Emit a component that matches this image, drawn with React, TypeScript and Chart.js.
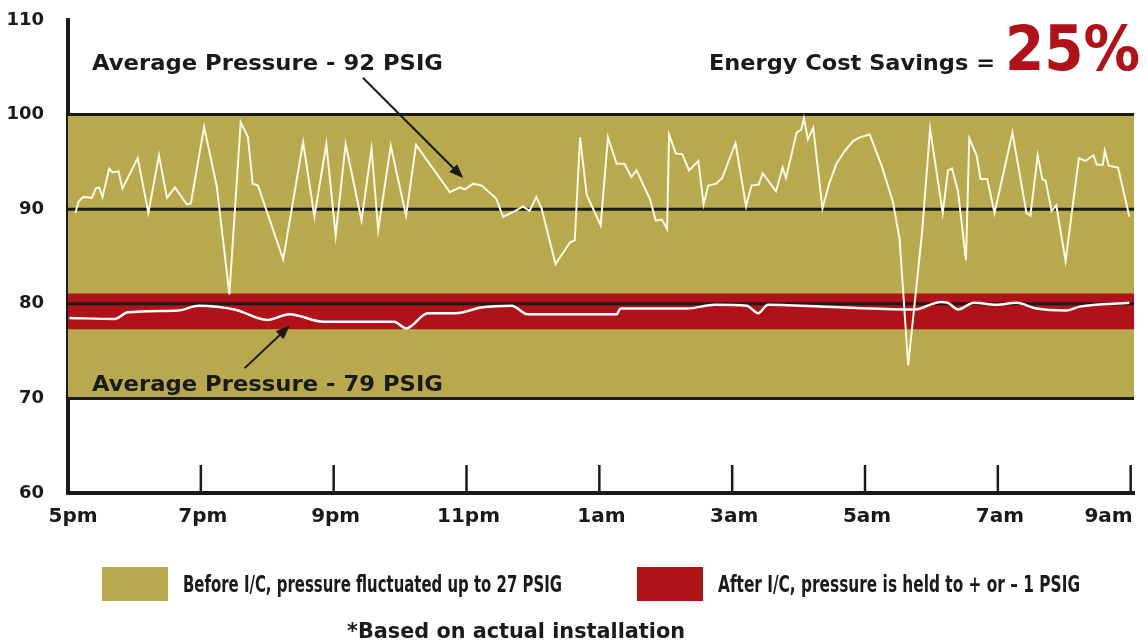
import React, { useEffect, useRef } from "react";
import { Chart, registerables } from "chart.js";

Chart.register(...registerables);

// ---------- data ----------
// x values are hours after 5pm
const TIME_LABELS = ["5pm", "7pm", "9pm", "11pm", "1am", "3am", "5am", "7am", "9am"];
const TICK_STEP_HOURS = 2;
const X_MAX = 16.05;
const Y_MIN = 60;
const Y_MAX = 110;
const Y_STEP = 10;

const BEFORE_HOURS = [0.11, 0.16, 0.23, 0.36, 0.42, 0.47, 0.52, 0.62, 0.67, 0.76, 0.82, 1.05, 1.21, 1.37, 1.49, 1.61, 1.79, 1.85, 2.05, 2.24, 2.43, 2.6, 2.71, 2.78, 2.86, 3.24, 3.54, 3.71, 3.89, 4.03, 4.18, 4.42, 4.57, 4.67, 4.86, 5.09, 5.24, 5.75, 5.9, 5.98, 6.1, 6.23, 6.45, 6.55, 6.73, 6.85, 6.95, 7.05, 7.13, 7.34, 7.56, 7.63, 7.71, 7.81, 8.02, 8.13, 8.26, 8.38, 8.48, 8.56, 8.76, 8.85, 8.94, 9.02, 9.05, 9.15, 9.25, 9.35, 9.49, 9.57, 9.64, 9.76, 9.85, 10.05, 10.21, 10.29, 10.4, 10.46, 10.66, 10.76, 10.81, 10.97, 11.04, 11.08, 11.14, 11.22, 11.36, 11.46, 11.57, 11.7, 11.82, 11.92, 12.07, 12.25, 12.42, 12.52, 12.65, 12.86, 12.98, 13.17, 13.25, 13.31, 13.4, 13.52, 13.57, 13.68, 13.74, 13.84, 13.95, 14.22, 14.43, 14.49, 14.6, 14.67, 14.72, 14.81, 14.88, 15.02, 15.22, 15.32, 15.44, 15.49, 15.58, 15.61, 15.67, 15.81, 15.98];
const BEFORE_PSIG = [89.6, 90.8, 91.3, 91.2, 92.2, 92.3, 91.3, 94.3, 93.9, 94.0, 92.2, 95.4, 89.6, 95.7, 91.2, 92.3, 90.5, 90.6, 98.7, 92.4, 81.0, 99.2, 97.6, 92.7, 92.5, 84.7, 97.1, 89.2, 96.9, 87.2, 96.9, 88.8, 96.4, 87.8, 96.7, 89.3, 96.8, 91.8, 92.3, 92.1, 92.7, 92.5, 91.1, 89.2, 89.8, 90.3, 89.8, 91.3, 90.1, 84.2, 86.5, 86.7, 97.6, 91.5, 88.3, 97.6, 94.8, 94.8, 93.4, 94.1, 91.1, 88.8, 88.9, 87.9, 97.9, 95.9, 95.8, 94.1, 95.1, 90.5, 92.5, 92.7, 93.3, 97.0, 90.3, 92.5, 92.6, 93.8, 91.9, 94.4, 93.3, 98.1, 98.4, 99.6, 97.4, 98.6, 90.1, 92.7, 94.8, 96.2, 97.2, 97.6, 97.9, 94.6, 90.8, 86.9, 73.5, 87.6, 98.5, 89.6, 94.1, 94.3, 91.9, 84.6, 97.5, 95.7, 93.2, 93.2, 89.6, 98.1, 89.6, 89.3, 95.7, 93.2, 93.0, 89.8, 90.4, 84.5, 95.4, 95.1, 95.7, 94.7, 94.7, 96.2, 94.6, 94.4, 89.2];

const AFTER_HOURS = [0.02, 0.71, 0.9, 1.66, 1.97, 2.51, 3.0, 3.33, 3.85, 4.91, 5.09, 5.42, 5.84, 6.22, 6.68, 6.92, 8.26, 8.32, 9.32, 9.74, 10.22, 10.39, 10.54, 11.69, 12.75, 13.14, 13.25, 13.4, 13.64, 13.98, 14.28, 14.58, 15.04, 15.23, 15.98];
const AFTER_PSIG = [78.5, 78.4, 79.1, 79.3, 79.8, 79.4, 78.3, 78.9, 78.1, 78.1, 77.4, 79.0, 79.0, 79.6, 79.8, 78.9, 78.9, 79.5, 79.5, 79.9, 79.8, 79.0, 79.9, 79.6, 79.4, 80.2, 80.1, 79.4, 80.1, 79.9, 80.1, 79.5, 79.3, 79.7, 80.1];

const BEFORE_BAND = [70, 100]; // fluctuation range before I/C
const AFTER_BAND = [77.3, 81.1]; // held range after I/C
const REFERENCE_LINES = [100, 90, 80, 70];

const TITLE_TEXT = "Energy Cost Savings =";
const SAVINGS_TEXT = "25%";
const BEFORE_NOTE = "Average Pressure - 92 PSIG";
const AFTER_NOTE = "Average Pressure - 79 PSIG";
const LEGEND_BEFORE = "Before I/C, pressure fluctuated up to 27 PSIG";
const LEGEND_AFTER = "After I/C, pressure is held to + or \u2013 1 PSIG";
const FOOTNOTE = "*Based on actual installation";

// arrows in data coordinates [fromHour, fromPsig, toHour, toPsig]
const ARROW_BEFORE = [4.44, 103.9, 5.95, 93.3];
const ARROW_AFTER = [2.66, 73.2, 3.34, 77.7];

// ---------- styles ----------
const GOLD = "#b8a94e";
const RED = "#b01219";
const INK = "#1c1a17";
const LINE_WHITE = "#fdf9e4";
const FONT = '"DejaVu Sans", "Liberation Sans", sans-serif';

function fitText(
  ctx: CanvasRenderingContext2D,
  text: string,
  x: number,
  y: number,
  width: number,
  font: string,
  color: string
) {
  ctx.save();
  ctx.font = font;
  ctx.fillStyle = color;
  ctx.textAlign = "left";
  ctx.textBaseline = "alphabetic";
  const w = ctx.measureText(text).width || 1;
  ctx.translate(x, y);
  ctx.scale(width / w, 1);
  ctx.fillText(text, 0, 0);
  ctx.restore();
}

function arrow(ctx: CanvasRenderingContext2D, x1: number, y1: number, x2: number, y2: number) {
  const ang = Math.atan2(y2 - y1, x2 - x1);
  const head = 14;
  const half = 5.5;
  ctx.save();
  ctx.strokeStyle = INK;
  ctx.fillStyle = INK;
  ctx.lineWidth = 2;
  ctx.beginPath();
  ctx.moveTo(x1, y1);
  ctx.lineTo(x2 - Math.cos(ang) * head * 0.8, y2 - Math.sin(ang) * head * 0.8);
  ctx.stroke();
  ctx.beginPath();
  ctx.moveTo(x2, y2);
  ctx.lineTo(
    x2 - Math.cos(ang) * head - Math.sin(ang) * half,
    y2 - Math.sin(ang) * head + Math.cos(ang) * half
  );
  ctx.lineTo(
    x2 - Math.cos(ang) * head + Math.sin(ang) * half,
    y2 - Math.sin(ang) * head - Math.cos(ang) * half
  );
  ctx.closePath();
  ctx.fill();
  ctx.restore();
}

const overlayPlugin = {
  id: "overlay",
  afterDraw(chart: any) {
    const ctx: CanvasRenderingContext2D = chart.ctx;
    const xs = chart.scales.x;
    const ys = chart.scales.y;
    const bottom = chart.chartArea.bottom;

    // inner tick marks and time labels
    ctx.save();
    ctx.strokeStyle = INK;
    ctx.lineWidth = 2.5;
    TIME_LABELS.forEach((lab, i) => {
      const px = xs.getPixelForValue(i * TICK_STEP_HOURS);
      if (i > 0) {
        ctx.beginPath();
        ctx.moveTo(px, bottom - 28);
        ctx.lineTo(px, bottom);
        ctx.stroke();
      }
      ctx.font = `bold 20px ${FONT}`;
      ctx.fillStyle = INK;
      ctx.textBaseline = "alphabetic";
      const last = i === TIME_LABELS.length - 1;
      ctx.textAlign = last ? "right" : "center";
      ctx.fillText(lab, last ? px + 2 : px + (i === 0 ? 5 : 2), bottom + 29);
    });
    ctx.restore();

    // annotations
    fitText(ctx, BEFORE_NOTE, 92, 70, 351, `bold 22px ${FONT}`, INK);
    fitText(ctx, AFTER_NOTE, 92, 391, 351, `bold 22px ${FONT}`, INK);
    fitText(ctx, TITLE_TEXT, 709, 70, 286, `bold 22px ${FONT}`, INK);
    fitText(ctx, SAVINGS_TEXT, 1005, 70, 135, `bold 62px ${FONT}`, RED);

    arrow(
      ctx,
      xs.getPixelForValue(ARROW_BEFORE[0]),
      ys.getPixelForValue(ARROW_BEFORE[1]),
      xs.getPixelForValue(ARROW_BEFORE[2]),
      ys.getPixelForValue(ARROW_BEFORE[3])
    );
    arrow(
      ctx,
      xs.getPixelForValue(ARROW_AFTER[0]),
      ys.getPixelForValue(ARROW_AFTER[1]),
      xs.getPixelForValue(ARROW_AFTER[2]),
      ys.getPixelForValue(ARROW_AFTER[3])
    );

    // legend
    ctx.save();
    ctx.fillStyle = GOLD;
    ctx.fillRect(102, 567, 66, 34);
    ctx.fillStyle = RED;
    ctx.fillRect(637, 567, 66, 34);
    ctx.restore();
    fitText(ctx, LEGEND_BEFORE, 183, 592, 379, `bold 23px ${FONT}`, INK);
    fitText(ctx, LEGEND_AFTER, 718, 592, 362, `bold 23px ${FONT}`, INK);

    // footnote
    fitText(ctx, FOOTNOTE, 347, 638, 338, `bold 21px ${FONT}`, INK);
  },
};

const flat = (v: number, x0: number, x1: number) => [
  { x: x0, y: v },
  { x: x1, y: v },
];

export default function App() {
  const ref = useRef<HTMLCanvasElement>(null);

  useEffect(() => {
    if (!ref.current) return;
    const datasets: any[] = [
      {
        label: "before",
        data: BEFORE_HOURS.map((h, i) => ({ x: h, y: BEFORE_PSIG[i] })),
        borderColor: LINE_WHITE,
        borderWidth: 2,
        pointRadius: 0,
        tension: 0,
        fill: false,
        order: 0,
      },
      {
        label: "after",
        data: AFTER_HOURS.map((h, i) => ({ x: h, y: AFTER_PSIG[i] })),
        borderColor: "#ffffff",
        borderWidth: 2.5,
        pointRadius: 0,
        cubicInterpolationMode: "monotone",
        fill: false,
        order: 0,
      },
      ...REFERENCE_LINES.map((v) => ({
        label: "ref" + v,
        data: flat(v, 0, X_MAX),
        borderColor: INK,
        borderWidth: 3,
        pointRadius: 0,
        fill: false,
        order: 1,
      })),
      {
        label: "after band",
        data: flat(AFTER_BAND[1], 0, X_MAX),
        borderWidth: 0,
        borderColor: RED,
        backgroundColor: RED,
        pointRadius: 0,
        fill: { value: AFTER_BAND[0] },
        order: 2,
      },
      {
        label: "before band",
        data: flat(BEFORE_BAND[1], 0, X_MAX),
        borderWidth: 0,
        borderColor: GOLD,
        backgroundColor: GOLD,
        pointRadius: 0,
        fill: { value: BEFORE_BAND[0] },
        order: 3,
      },
    ];

    const chart = new Chart(ref.current, {
      type: "line",
      data: { datasets },
      options: {
        animation: false,
        responsive: false,
        devicePixelRatio: 1,
        layout: { padding: { top: 20, right: 14, left: 0, bottom: 0 } },
        plugins: {
          legend: { display: false },
          tooltip: { enabled: false },
        },
        scales: {
          x: {
            type: "linear",
            min: 0,
            max: X_MAX,
            z: 1,
            ticks: { display: false, stepSize: TICK_STEP_HOURS },
            grid: { display: true, drawOnChartArea: false, drawTicks: false },
            border: { display: true, color: INK, width: 4 },
            afterFit: (scale: any) => {
              scale.height = 150;
              scale.paddingLeft = 0;
              scale.paddingRight = 0;
            },
          },
          y: {
            type: "linear",
            min: Y_MIN,
            max: Y_MAX,
            z: 1,
            ticks: {
              stepSize: Y_STEP,
              padding: 24,
              color: INK,
              font: { family: FONT, weight: "bold", size: 18 },
            },
            grid: { display: true, drawOnChartArea: false, drawTicks: false },
            border: { display: true, color: INK, width: 4 },
            afterFit: (scale: any) => {
              scale.width = 68;
              scale.paddingTop = 10;
              scale.paddingBottom = 10;
            },
          },
        },
      } as any,
      plugins: [overlayPlugin],
    });
    return () => chart.destroy();
  }, []);

  return (
    <div
      style={{
        position: "absolute",
        left: 0,
        top: 0,
        width: 1148,
        height: 643,
        background: "#ffffff",
        overflow: "hidden",
      }}
    >
      <canvas ref={ref} width={1148} height={643} style={{ display: "block" }} />
    </div>
  );
}
